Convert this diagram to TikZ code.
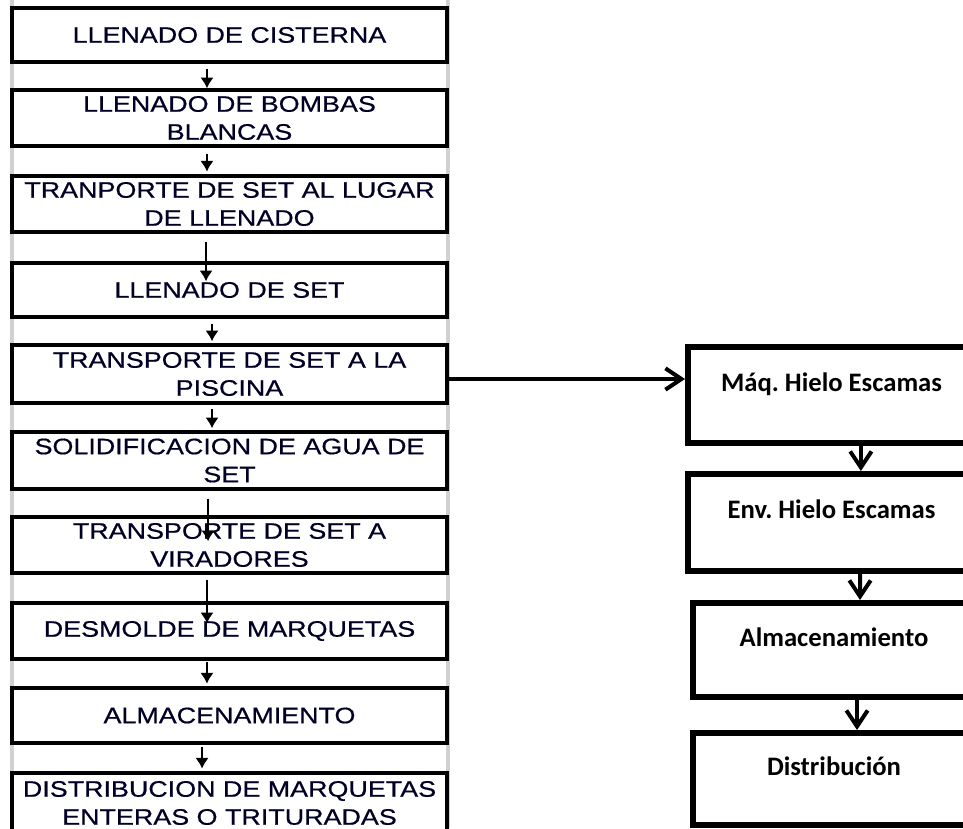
\documentclass[tikz,border=0pt]{standalone}
\usepackage{fontspec}
\usetikzlibrary{arrows.meta}
\newfontfamily\stepfont[FakeStretch=1.2,FakeBold=0.6]{Liberation Sans}
\newfontfamily\iceface{Carlito}
\frenchspacing

\begin{document}
\begin{tikzpicture}[x=0.75pt,y=-0.75pt,
  leftarrow/.style={draw=black, line width=1.4pt, -{Latex[length=8pt,width=10pt]}},
  rightarrow/.style={draw=black, line width=3pt, -{Straight Barb[length=12pt,width=16pt]}}]
\useasboundingbox (0,0) rectangle (963,828);
% page edges behind the left column
\draw[black!18, line width=2.5pt] (12,0) -- (12,828) (448,0) -- (448,828);
\begin{scope}[every node/.style={rectangle, draw, fill=white, line width=2.6pt, minimum width=326pt, inner sep=2pt, align=center, text=black!85!blue, font=\stepfont\fontsize{16.8}{21}\selectfont}]
    \node[minimum height=40.5pt] (l1) at (229.5,35) {LLENADO DE CISTERNA};
    \node[minimum height=42pt] (l2) at (229.5,118) {LLENADO DE BOMBAS\\BLANCAS};
    \node[minimum height=42pt] (l3) at (229.5,204) {TRANPORTE DE SET AL LUGAR\\DE LLENADO};
    \node[minimum height=40.5pt] (l4) at (229.5,290) {LLENADO DE SET};
    \node[minimum height=43.5pt] (l5) at (229.5,374) {TRANSPORTE DE SET A LA\\PISCINA};
    \node[minimum height=42.75pt] (l6) at (229.5,460.5) {SOLIDIFICACION DE AGUA DE\\SET};
    \node[minimum height=42pt] (l7) at (229.5,545) {TRANSPORTE DE SET A\\VIRADORES};
    \node[minimum height=42pt] (l8) at (229.5,631) {DESMOLDE DE MARQUETAS};
    \node[minimum height=41.25pt] (l9) at (229.5,715.5) {ALMACENAMIENTO};
    \node[minimum height=45pt] (l10) at (229.5,803) {DISTRIBUCION DE MARQUETAS\\ENTERAS O TRITURADAS};
\end{scope}
\begin{scope}[every node/.style={rectangle, draw, line width=4.5pt, inner sep=0pt, text height=13.5pt, text depth=19.5pt, font=\iceface\bfseries\fontsize{20}{24}\selectfont}]
    \node[minimum width=215.25pt, minimum height=72pt] (r1) at (831.5,395) {Máq. Hielo Escamas};
    \node[minimum width=215.25pt, minimum height=72.75pt] (r2) at (831.5,522.5) {Env. Hielo Escamas};
    \node[minimum width=211.5pt, minimum height=70.5pt] (r3) at (834,650) {Almacenamiento};
    \node[minimum width=211.5pt, minimum height=69pt] (r4) at (834,779) {Distribución};
\end{scope}
\begin{scope}[every edge/.style={leftarrow}]
    \path ([xshift=-16.9pt]l1.south) edge[shorten <=3.75pt] ([xshift=-16.9pt]l2.north);
    \path ([xshift=-16.9pt]l2.south) edge[shorten <=4.5pt, shorten >=2pt] ([xshift=-16.9pt]l3.north);
    \path ([xshift=-17.6pt]l3.south) edge[shorten <=6pt, shorten >=-15pt] ([xshift=-17.6pt]l4.north);
    \path ([xshift=-13.1pt]l4.south) edge[shorten <=3.75pt, shorten >=1.5pt] ([xshift=-13.1pt]l5.north);
    \path ([xshift=-13.1pt]l5.south) edge[shorten <=3pt, shorten >=1.5pt] ([xshift=-13.1pt]l6.north);
    \path ([xshift=-16.1pt]l6.south) edge[shorten <=6pt, shorten >=-19.5pt] ([xshift=-16.1pt]l7.north);
    \path ([xshift=-16.9pt]l7.south) edge[shorten <=3.75pt, shorten >=-16.5pt] ([xshift=-16.9pt]l8.north);
    \path ([xshift=-16.9pt]l8.south) edge[shorten <=1pt, shorten >=2pt] ([xshift=-16.9pt]l9.north);
    \path ([xshift=-20.6pt]l9.south) edge[shorten <=1.5pt, shorten >=2pt] ([xshift=-20.6pt]l10.north);
\end{scope}
\begin{scope}[every edge/.style={rightarrow}]
    \path ([yshift=-3.75pt]l5.east) edge ([yshift=-3.75pt]l5.east -| r1.west);
    \path ([xshift=22pt]r1.south) edge ([xshift=22pt]r2.north);
    \path ([xshift=21.4pt]r2.south) edge ([xshift=19.5pt]r3.north);
    \path ([xshift=17.25pt]r3.south) edge ([xshift=17.25pt]r4.north);
\end{scope}
\end{tikzpicture}
\end{document}
